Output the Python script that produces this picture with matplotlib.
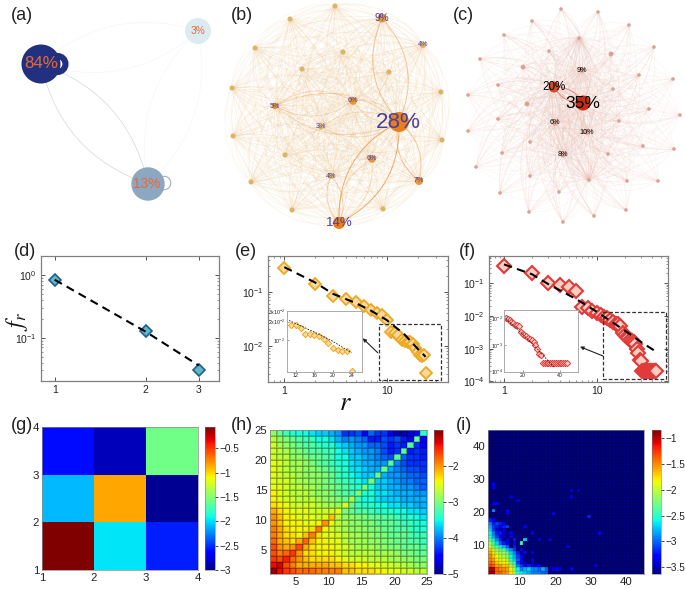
import numpy as np
import matplotlib
matplotlib.use('Agg')
import matplotlib.pyplot as plt
from matplotlib.patches import Circle, PathPatch, Rectangle
from matplotlib.path import Path
from matplotlib.ticker import NullFormatter, FixedLocator

plt.rcParams['font.family'] = ['Liberation Sans', 'DejaVu Sans']
plt.rcParams['mathtext.default'] = 'regular'
plt.rcParams['axes.unicode_minus'] = True

# ---------- data ----------
a_shares = ['84%', '3%', '13%']
b_nodes = [(335,6),(290,19),(382,18),(423,45),(255,48),(343,52),(302,69),(389,72),(232,88),(441,92),
           (275,106),(353,101),(399,122),(321,127),(233,136),(442,140),(372,159),(285,155),(331,176),
           (419,181),(251,182),(292,210),(383,209),(339,223)]
b_labels = ['', '', '9%', '4%', '', '', '', '', '', '', '5%', '6%', '28%', '3%', '', '', '6%', '', '4%',
            '7%', '', '', '', '14%']
c_nodes = [(561,9),(598,12),(532,21),(629,25),(504,35),(579,38),(654,47),(549,51),(611,54),(480,59),
           (523,67),(582,70),(639,75),(673,79),(554,87),(498,85),(613,89),(468,95),(583,103),(527,104),
           (649,109),(680,115),(498,119),(555,123),(619,121),(468,131),(587,132),(530,142),(643,146),
           (674,149),(502,153),(608,154),(563,155),(476,167),(530,176),(589,180),(627,181),(658,181),
           (559,192),(500,193),(529,212),(626,210),(594,216),(563,222)]
c_labels = {11:'9%', 14:'20%', 18:'35%', 23:'6%', 26:'10%', 32:'8%'}

d_r = [1, 2, 3]
d_f = [0.84, 0.13, 0.03]
d_fit = [0.84, 0.125, 0.036]

e_r = list(range(1, 25))
e_f = [0.276,0.139,0.0855,0.074,0.064,0.055,0.047,0.040,0.038,0.030,0.018,0.0175,0.016,0.0127,0.0124,
       0.0119,0.0115,0.0105,0.0090,0.0075,0.0068,0.0065,0.0066,0.0031]
e_fit_r = [1, 2, 3, 5, 7, 10, 15, 20, 24]
e_fit_f = [0.29, 0.15, 0.092, 0.062, 0.045, 0.030, 0.016, 0.0088, 0.0062]
e_inset_fit_r = [10.5, 16, 20, 24]
e_inset_fit_f = [0.021, 0.0135, 0.0095, 0.0062]

f_r = list(range(1, 45))
f_f = [0.347,0.202,0.1,0.087,0.079,0.06,0.0193,0.017,0.0143,0.012,0.0107,0.0095,0.0085,0.0075,0.0067,
       0.0058,0.0055,0.005,0.003,0.0027,0.0023,0.0021,0.0018,0.0017,0.0016,0.00136,0.001,0.00072,0.00045,
       0.00042,0.00021,0.00021,0.00021,0.00021,0.00021,0.00021,0.00021,0.00021,0.00021,0.00021,0.00021,
       0.00021,0.00021,0.00021]
f_fit_r = [1, 2, 3, 6, 10, 20, 30, 44]
f_fit_f = [0.38, 0.19, 0.095, 0.033, 0.0135, 0.0036, 0.0016, 0.0008]
f_inset_fit_r = [11, 25, 37]
f_inset_fit_f = [0.01, 0.0012, 0.00015]

g_matrix = [[-0.07, -1.97, -2.55],
            [-2.1, -0.85, -2.95],
            [-2.6, -2.85, -1.57]]

h_tenths = [
 [11,14,16,17,18,18,18,19,19,19,19,22,22,23,23,23,24,24,25,25,26,26,27,27],
 [14,13,17,19,21,21,21,21,21,22,22,23,23,24,24,25,25,26,26,27,27,28,29,29],
 [16,17,15,18,20,22,23,23,23,23,24,25,26,26,26,27,27,27,28,28,29,29,30,30],
 [17,19,18,16,20,23,23,24,24,24,25,26,27,27,27,27,28,28,28,29,30,30,31,31],
 [17,20,21,20,17,21,23,24,24,24,25,26,27,28,28,28,29,29,30,30,31,31,31,32],
 [18,21,22,23,21,18,22,24,24,25,25,27,28,28,28,29,29,30,30,31,31,32,32,33],
 [19,21,23,23,24,22,19,23,25,25,26,27,28,28,29,29,30,30,31,31,31,32,33,33],
 [19,21,23,24,24,24,23,19,24,26,27,28,29,29,29,30,30,31,31,32,32,33,34,34],
 [20,22,24,24,24,25,25,24,20,25,27,28,29,29,30,30,31,31,31,32,33,33,34,35],
 [20,22,24,24,25,25,25,26,25,22,27,29,29,30,30,31,31,32,32,33,34,34,35,36],
 [21,23,24,25,25,25,26,26,26,26,25,30,31,32,32,33,34,34,34,35,35,36,36,37],
 [23,24,25,26,26,26,26,27,28,28,29,26,31,33,34,34,35,35,36,36,37,37,38,38],
 [24,25,26,26,27,27,27,28,29,29,30,31,28,33,35,35,36,37,37,37,38,38,38,38],
 [24,25,26,27,27,27,28,29,29,30,31,32,33,30,34,35,36,36,37,38,38,38,39,39],
 [25,25,26,27,27,28,28,29,30,30,31,32,33,34,30,35,37,37,38,38,39,39,40,41],
 [25,26,26,27,28,28,29,29,30,31,32,33,34,35,36,31,37,37,38,39,40,40,41,41],
 [25,26,27,27,28,29,29,29,30,31,33,34,35,36,37,37,31,38,39,39,40,41,41,42],
 [25,26,27,28,28,29,29,30,31,32,33,34,36,36,37,38,38,31,38,40,41,42,42,43],
 [25,26,27,28,28,29,30,31,32,33,34,35,36,37,38,38,39,39,32,40,42,43,43,43],
 [26,27,27,29,29,30,31,31,32,33,35,35,37,37,38,39,40,41,42,32,41,43,43,44],
 [26,27,28,29,30,31,32,32,33,33,35,36,37,38,39,39,40,42,44,43,32,44,43,44],
 [26,28,29,30,31,32,32,33,34,34,36,37,38,39,39,41,41,42,44,43,44,32,43,45],
 [27,29,30,31,32,33,33,35,35,36,38,40,39,40,41,44,44,42,43,42,44,46,32,45],
 [29,31,33,34,35,35,36,37,37,38,39,43,43,42,45,41,43,43,46,48,48,47,45,34],
]

i_background = -3.63
i_rows_tenths = [
 [9,9,14,14,15,16,18,20,25,26,27,28,29,29,29,30,30],
 [10,10,14,15,15,16,19,21,26,29,28,27,29,29,30,28,30],
 [13,14,16,16,17,17,21,23,29,31,33,32,33,34,33],
 [14,15,17,18,18,19,23,25,31,33,35,36,34],
 [15,16,18,19,19,20,25,27,30,33,36,36],
 [15,17,19,20,21,22,26,28,31,33],
 [16,18,20,21,21,23,27,29,32,36,33],
 [17,20,22,23,24,27,29,31,36,33],
 [19,22,24,26,28,30,36,32],
 [21,24,27,30,32,33,36,33],
 [23,26,29,32,36,33,36,32],
 [25,28,31,33,34],
 [26,29,32,32,34,36,33],
 [27,31,33,36,34],
 [28,31,32,33,32,31],
 [29,32,31,32,33],
 [32,33],
]
i_sparse_x = [10,11,11,13,7,19,29,32,24,26,24,7,9,2,2,2,3,2,6,6,15,18,23,13,13,31,21,24,19,20]
i_sparse_y = [10,11,15,13,12,19,18,13,26,26,24,24,23,28,27,22,22,20,20,19,11,11,9,7,5,3,2,2,2,2]
i_sparse_v = [-2.5,-2.7,-3.3,-3.3,-3.3,-3.3,-3.2,-3.3,-3.4,-3.4,-3.4,-3.4,-3.4,-3.3,-3.3,-3.3,-3.3,-2.9,-3.3,-3.3,
              -3.4,-3.4,-3.4,-3.3,-3.3,-3.4,-3.4,-3.3,-3.3,-3.3]

# ---------- helpers ----------
W, H = 685, 589
fig = plt.figure(figsize=(W/100, H/100), dpi=100)

def axpx(x0, y0, x1, y1, **kw):
    return fig.add_axes([x0/W, 1-y1/H, (x1-x0)/W, (y1-y0)/H], **kw)

bg = axpx(0, 0, W, H)
bg.set_xlim(0, W); bg.set_ylim(H, 0); bg.axis('off')

def arc(p, q, rad, color, lw, alpha, z=1):
    p = np.array(p, float); q = np.array(q, float)
    m = (p+q)/2; d = q-p
    c = m + rad*np.array([d[1], -d[0]])
    bg.add_patch(PathPatch(Path([p, c, q], [Path.MOVETO, Path.CURVE3, Path.CURVE3]),
                           fc='none', ec=color, lw=lw, alpha=alpha, zorder=z))

def node(p, r, color, z=5):
    bg.add_patch(Circle(p, r, fc=color, ec='none', zorder=z))

def label(p, s, size, color):
    bg.text(p[0], p[1], s, fontsize=size, color=color, ha='center', va='center', zorder=8)

for (x, y, s) in [(11,15,'(a)'),(231,15,'(b)'),(453,15,'(c)'),(14,251,'(d)'),(235,251,'(e)'),(459,251,'(f)'),
                  (11,425,'(g)'),(231,425,'(h)'),(456,425,'(i)')]:
    bg.text(x, y, s, fontsize=13, ha='left', va='center', color='#222222', zorder=9)

# ---------- (a) ----------
A = [(41,64),(198,31),(148,184)]
for pair, col, al in [((0,2),'#c4cedb',0.8),((2,0),'#c4cedb',0.8),
                      ((0,1),'#e6ecef',0.45),((1,0),'#e6ecef',0.45),
                      ((1,2),'#e6ecef',0.4),((2,1),'#e6ecef',0.4)]:
    arc(A[pair[0]], A[pair[1]], 0.28, col, 0.5, al)
bg.add_patch(Circle((57.5,64), 8.0, fc='none', ec='#22317f', lw=4.4, zorder=4))
bg.add_patch(Circle((164,183), 6.8, fc='none', ec='#7f99b5', lw=0.6, zorder=4))
node(A[0], 19.5, '#22317f'); node(A[1], 13, '#dcebf0'); node(A[2], 16.7, '#8ea7c0')
label((41,64), a_shares[0], 12.2, '#e2693a')
label((198,31), a_shares[1], 7.3, '#e2693a')
label((147,184), a_shares[2], 9.8, '#e2693a')

# ---------- (b) ----------
strong_b = {(12,23):0.8,(2,12):0.55,(12,19):0.5,(11,12):0.3,(10,12):0.35,(12,13):0.3,(18,23):0.4,(16,23):0.3,(10,11):0.3}
for i, p in enumerate(b_nodes):
    for j, q in enumerate(b_nodes):
        if i == j:
            continue
        w = strong_b.get((min(i, j), max(i, j)), 0)
        if w:
            arc(p, q, 0.32, '#e59a45', 0.7, w, z=2)
        else:
            hubby = bool(b_labels[i]) or bool(b_labels[j])
            arc(p, q, 0.32, '#efcb9a', 0.4, 0.30 if hubby else 0.18, z=1)
for i, p in enumerate(b_nodes):
    s = b_labels[i]
    v = int(s[:-1]) if s else 0
    r = {28:10, 14:6, 9:4.5, 7:4, 6:3.8, 5:3.2, 4:3, 3:2.6}.get(v, 2.5)
    c = '#ea7f18' if v >= 14 else ('#e49a3c' if v >= 5 else '#dcb465')
    node(p, r, c)
b_sizes = {'28%':16.2, '14%':9.5, '9%':7.3}
for i, p in enumerate(b_nodes):
    if b_labels[i]:
        xy = (p[0]-1, p[1]+1) if b_labels[i] == '28%' else p
        label(xy, b_labels[i], b_sizes.get(b_labels[i], 5.2), '#4a3f9f')

# ---------- (c) ----------
c_hubs = [18, 14, 26, 11, 32, 23, 5, 35]
for i, p in enumerate(c_nodes):
    for h in c_hubs:
        if i != h:
            q = c_nodes[h]
            strong = h in (18, 14) and i in (18, 14)
            arc(p, q, 0.3, '#d9705a' if strong else '#ecc0b4', 0.9 if strong else 0.4,
                0.8 if strong else (0.38 if h in (18, 14) else 0.22))
            arc(q, p, 0.3, '#ecc0b4', 0.4, 0.16)
for i, p in enumerate(c_nodes):
    s = c_labels.get(i, '')
    r = {'35%':7.5, '20%':5.5}.get(s, 2.6 if s else (1.8 if i not in (8, 19, 10) else 2.4))
    c = {'35%':'#c72d0c', '20%':'#cf4e28'}.get(s, '#d9a394')
    node(p, r, c)
for i, s in c_labels.items():
    label(c_nodes[i], s, {'35%':12.6, '20%':8.4}.get(s, 5.2), 'black')

# ---------- rank plots ----------
def style(ax, xlim, ylim, c='#808080', size=7.5, lw=0.9):
    ax.set_xscale('log'); ax.set_yscale('log')
    ax.set_xlim(*xlim); ax.set_ylim(*ylim)
    for s in ax.spines.values():
        s.set_color(c); s.set_linewidth(lw)
    ax.tick_params(which='major', direction='in', top=True, right=True, length=3, width=0.7, color='#555555',
                   labelsize=size, pad=3, labelcolor='#222222')
    ax.tick_params(which='minor', direction='in', top=True, right=True, length=1.5, width=0.5, color='#666666',
                   labelleft=False, labelbottom=False)

axd = axpx(40.7, 255.7, 219, 381)
style(axd, (0.899, 3.5), (0.0204, 2.03))
axd.plot(d_r, d_fit, '--', color='k', lw=1.5, dashes=(4, 2.6), zorder=3)
axd.plot(d_r, d_f, 'D', ms=6.2, mfc='#5fb8c8', mec='#1f5f8f', mew=1.2, ls='none', zorder=2)
axd.set_xticks(d_r); axd.set_xticklabels(['1', '2', '3'])
axd.xaxis.set_minor_formatter(NullFormatter())
axd.set_yticks([1, 0.1]); axd.set_yticklabels(['$10^{0}$', '$10^{-1}$'])
axd.yaxis.set_minor_formatter(NullFormatter())

axe = axpx(268, 255.7, 448, 382)
style(axe, (0.693, 39.7), (0.0021, 0.474))
axe.plot(e_r, e_f, 'D', ms=6.6, mfc='#fbd9a0', mec='#eda820', mew=1.3, ls='none', zorder=2)
axe.plot(e_fit_r, e_fit_f, '--', color='k', lw=1.5, dashes=(4, 2.6), zorder=3)
axe.set_xticks([1, 10]); axe.set_xticklabels(['1', '10'])
axe.xaxis.set_minor_formatter(NullFormatter())
axe.set_yticks([0.1, 0.01]); axe.set_yticklabels(['$10^{-1}$', '$10^{-2}$'])
axe.yaxis.set_minor_formatter(NullFormatter())

axf = axpx(489, 256, 668, 382)
style(axf, (0.689, 58.8), (0.000095, 0.687))
axf.plot(f_r, f_f, 'D', ms=7.2, mfc='#f8cfc0', mec='#e03a3a', mew=1.5, ls='none', zorder=2)
axf.plot(f_fit_r, f_fit_f, '--', color='k', lw=1.5, dashes=(4, 2.6), zorder=3)
axf.set_xticks([1, 10]); axf.set_xticklabels(['1', '10'])
axf.xaxis.set_minor_formatter(NullFormatter())
axf.set_yticks([0.1, 0.01, 0.001, 0.0001]); axf.set_yticklabels(['$10^{-1}$', '$10^{-2}$', '$10^{-3}$', '$10^{-4}$'])
axf.yaxis.set_minor_formatter(NullFormatter())

# overlay for boxes, arrows, labels above the plots
ov = axpx(0, 0, W, H)
ov.set_xlim(0, W); ov.set_ylim(H, 0); ov.axis('off'); ov.patch.set_alpha(0)
ov.set_zorder(5)
ov.add_patch(Rectangle((379, 324), 62, 56, fc='none', ec='#333333', lw=0.9, ls=(0, (3, 1.6))))
ov.add_patch(Rectangle((602.7, 312), 63, 66.7, fc='none', ec='#333333', lw=0.9, ls=(0, (3, 1.6))))
ov.annotate('', xy=(362.7, 338.3), xytext=(377.7, 352.7), arrowprops=dict(arrowstyle='-|>', color='#222222', lw=0.8, mutation_scale=5, shrinkA=0, shrinkB=0))
ov.annotate('', xy=(580, 346.7), xytext=(603, 356), arrowprops=dict(arrowstyle='-|>', color='#222222', lw=0.8, mutation_scale=5, shrinkA=0, shrinkB=0))
ov.text(17, 322, r'$\mathit{f_r}$', fontsize=17, rotation=90, ha='center', va='center', math_fontfamily='stix', color='#111111')
ov.text(345, 403, r'$\mathit{r}$', fontsize=19, ha='center', va='center', math_fontfamily='stix', color='#111111')

# insets
ine = axpx(286.7, 311, 361.7, 371.7)
ine.set_zorder(6)
style(ine, (10, 26.2), (0.00303, 0.03), c='#aaaaaa', size=3.8, lw=0.7)
ine.set_xscale('linear'); ine.set_xlim(10, 26.2)
ine.plot(e_r[10:], e_f[10:], 'D', ms=3.2, mfc='#fbd9a0', mec='#eda820', mew=0.7, ls='none')
ine.plot(e_inset_fit_r, e_inset_fit_f, '--', color='#222222', lw=0.6, dashes=(2, 1.5))
ine.set_xticks([12, 16, 20, 24]); ine.set_xticklabels(['12', '16', '20', '24'])
ine.set_yticks([0.03, 0.02, 0.01]); ine.set_yticklabels([r'$3x10^{-2}$', r'$2x10^{-2}$', r'$10^{-2}$'])
ine.yaxis.set_minor_formatter(NullFormatter()); ine.yaxis.set_minor_locator(FixedLocator([]))
ine.xaxis.set_minor_locator(FixedLocator([]))
ine.tick_params(which='major', length=1.5, width=0.4, pad=1, top=False, right=False)

inf = axpx(504, 310, 578, 371.7)
inf.set_zorder(6)
style(inf, (10, 50), (0.0001, 0.0207), c='#aaaaaa', size=3.8, lw=0.7)
inf.set_xscale('linear'); inf.set_xlim(10, 50)
inf.plot(f_r[10:], f_f[10:], 'D', ms=3.2, mfc='#f8cfc0', mec='#e03a3a', mew=0.7, ls='none')
inf.plot(f_inset_fit_r, f_inset_fit_f, '--', color='#222222', lw=0.6, dashes=(2, 1.5))
inf.set_xticks([20, 40]); inf.set_xticklabels(['20', '40'])
inf.set_yticks([0.01, 0.001, 0.0001]); inf.set_yticklabels(['$10^{-2}$', '$10^{-3}$', '$10^{-4}$'])
inf.yaxis.set_minor_formatter(NullFormatter()); inf.yaxis.set_minor_locator(FixedLocator([]))
inf.xaxis.set_minor_locator(FixedLocator([]))
inf.tick_params(which='major', length=1.5, width=0.4, pad=1, top=False, right=False)

# ---------- heatmaps ----------
def heat(ax_box, cb_box, Z, n, vmin, vmax, xt, yt, cbt, cbl, grid, fs=8.2):
    ax = axpx(*ax_box)
    edges = np.arange(1, n+2)
    kw = dict(edgecolors=grid, linewidth=0.2) if grid else {}
    m = ax.pcolormesh(edges, edges, Z, cmap='jet', vmin=vmin, vmax=vmax, **kw)
    ax.set_xlim(1, n+1); ax.set_ylim(1, n+1)
    ax.set_xticks(xt); ax.set_yticks(yt)
    ax.set_xticklabels([str(t) for t in xt]); ax.set_yticklabels([str(t) for t in yt])
    ax.tick_params(length=0, labelsize=fs, pad=2, labelcolor='#222222')
    for s in ax.spines.values():
        s.set_color('#888888'); s.set_linewidth(0.5)
    cax = axpx(*cb_box)
    cb = fig.colorbar(m, cax=cax, ticks=cbt)
    cb.ax.set_yticklabels(cbl)
    cb.ax.tick_params(length=2, width=0.5, labelsize=7.2, pad=1.5, labelcolor='#222222')
    cb.outline.set_linewidth(0.4); cb.outline.set_edgecolor('#777777')
    return ax

heat((42, 427, 198, 570), (205, 427, 215, 570), np.array(g_matrix), 3, -3, -0.06,
     [1, 2, 3, 4], [1, 2, 3, 4], [-0.5, -1, -1.5, -2, -2.5, -3],
     ['\u22120.5', '\u22121', '\u22121.5', '\u22122', '\u22122.5', '\u22123'], None)

Zh = -np.array(h_tenths) / 10
heat((270, 430, 427, 574), (434, 430, 443, 574), Zh, 24, -5, -1,
     [5, 10, 15, 20, 25], [5, 10, 15, 20, 25], [-2, -3, -4, -5],
     ['\u22122', '\u22123', '\u22124', '\u22125'], (0, 0, 0, 0.18))

Zi = np.full((44, 44), i_background)
for y, row in enumerate(i_rows_tenths):
    for x, v in enumerate(row):
        Zi[y, x] = -v / 10
for x, y, v in zip(i_sparse_x, i_sparse_y, i_sparse_v):
    Zi[y-1, x-1] = v
heat((488, 430, 644, 574), (652, 430, 661, 574), Zi, 44, -3.63, -0.84,
     [10, 20, 30, 40], [10, 20, 30, 40], [-1, -1.5, -2, -2.5, -3, -3.5],
     ['\u22121', '\u22121.5', '\u22122', '\u22122.5', '\u22123', '\u22123.5'], (0, 0, 0, 0.08))

fig.savefig('out.png', dpi=100)
